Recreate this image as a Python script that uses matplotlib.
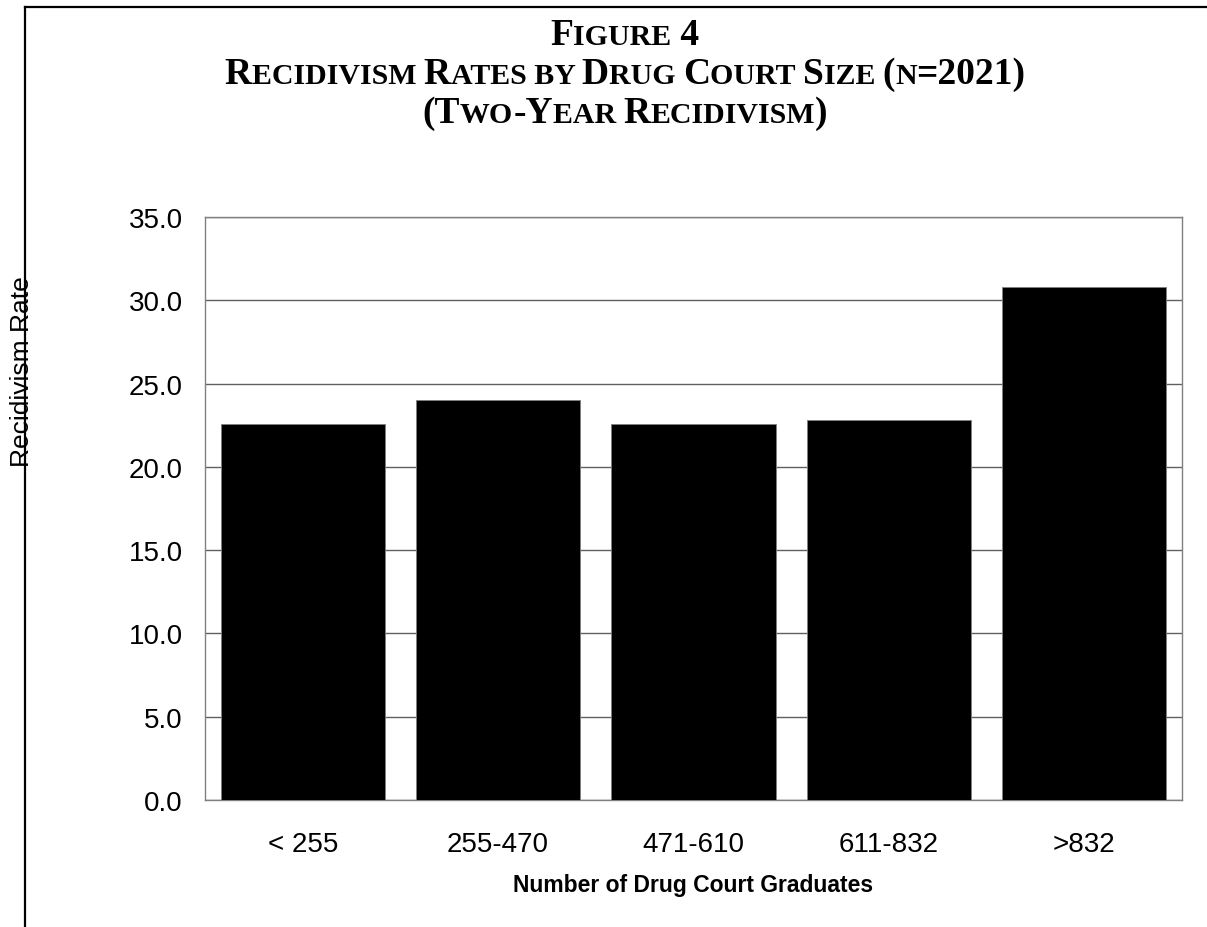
import matplotlib
matplotlib.use('Agg')
import matplotlib.pyplot as plt
from matplotlib.lines import Line2D

# Data
categories = ['< 255', '255-470', '471-610', '611-832', '>832']
rates = [22.6, 24.0, 22.55, 22.8, 30.8]
y_ticks = [0, 5, 10, 15, 20, 25, 30, 35]

W, H, DPI = 1207, 928, 100
fig = plt.figure(figsize=(W / DPI, H / DPI), dpi=DPI)
fig.patch.set_facecolor('white')

# Page frame (left and top border lines)
fig.add_artist(Line2D([25 / W, 25 / W], [0, 1 - 8 / H], color='black', lw=1.6, transform=fig.transFigure))
fig.add_artist(Line2D([25 / W, 1], [1 - 8 / H, 1 - 8 / H], color='black', lw=1.6, transform=fig.transFigure))

ax = fig.add_axes([205 / W, 1 - 801 / H, (1182 - 205) / W, (801 - 218) / H])
ax.bar(range(len(categories)), rates, width=0.84, color='black', edgecolor='#808080', linewidth=0.6, zorder=3)

ax.set_xlim(-0.5, len(categories) - 0.5)
ax.set_ylim(0, 35)
ax.set_yticks(y_ticks)
ax.set_yticklabels([f'{v:.1f}' for v in y_ticks], fontsize=20, family='Liberation Sans')
ax.set_xticks(range(len(categories)))
ax.set_xticklabels(categories, fontsize=20, family='Liberation Sans')
ax.tick_params(axis='both', length=0)
ax.tick_params(axis='y', pad=16)
ax.tick_params(axis='x', pad=22)

ax.yaxis.grid(True, color='#606060', lw=1.0, zorder=0)
for s in ax.spines.values():
    s.set_color('#808080')
    s.set_linewidth(1.0)

ax.set_xlabel('Number of Drug Court Graduates', fontsize=16.5, fontweight='bold', family='Liberation Sans', labelpad=12)

fig.text(22 / W, 1 - 372 / H, 'Recidivism Rate', rotation=90, ha='center', va='center',
         fontsize=19, family='Liberation Sans')

# Small-caps title, built from pieces
BIG, SMALL = 27, 21.5
title_lines = [
    (45, [('F', BIG), ('IGURE', SMALL), (' 4', BIG)]),
    (84, [('R', BIG), ('ECIDIVISM ', SMALL), ('R', BIG), ('ATES BY ', SMALL), ('D', BIG), ('RUG ', SMALL),
          ('C', BIG), ('OURT ', SMALL), ('S', BIG), ('IZE ', SMALL), ('(', BIG), ('N', SMALL), ('=2021)', BIG)]),
    (123, [('(T', BIG), ('WO', SMALL), ('-Y', BIG), ('EAR ', SMALL), ('R', BIG), ('ECIDIVISM', SMALL), (')', BIG)]),
]

renderer = fig.canvas.get_renderer()
center_x = 625
for baseline, parts in title_lines:
    texts = []
    for s, size in parts:
        t = fig.text(0, 1 - baseline / H, s, fontsize=size, fontweight='bold', family='Liberation Serif',
                     va='baseline', ha='left')
        texts.append(t)
    widths = [t.get_window_extent(renderer=renderer).width for t in texts]
    x = center_x - sum(widths) / 2
    for t, w in zip(texts, widths):
        t.set_x(x / W)
        x += w

fig.savefig('out.png', dpi=DPI)
